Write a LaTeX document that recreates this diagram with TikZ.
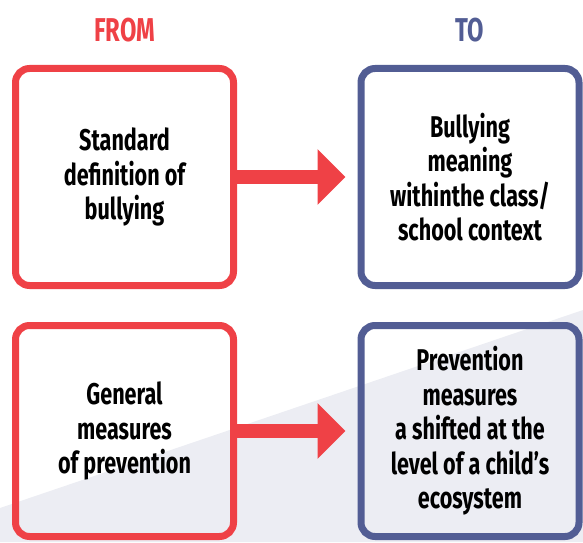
\documentclass[tikz,border=0pt]{standalone}
\definecolor{fromred}{RGB}{239, 65, 70}
\definecolor{toblue}{RGB}{82, 93, 148}
\definecolor{bggray}{RGB}{236, 237, 243}
\usepackage{fontspec}
\setmainfont{Fira Sans}[FakeStretch=0.72]
\usepackage{tikz}
\usetikzlibrary{arrows.meta, positioning, calc}

\tikzset{
  boxtext/.style={font=\fontsize{30}{34.5}\selectfont\bfseries, align=center, text=black},
  frombox/.style={boxtext, draw=fromred, line width=7pt, rounded corners=14pt, minimum width=218pt},
  tobox/.style={boxtext, draw=toblue, line width=7pt, rounded corners=14pt, minimum width=218pt},
  headtext/.style={font=\fontsize{33}{34}\selectfont\bfseries},
  shiftarrow/.style={draw=fromred, line width=14pt, -{Triangle[length=28pt, width=54pt]}, shorten >=12pt}
}

\begin{document}
\begin{tikzpicture}[x=1pt, y=1pt]
  \useasboundingbox (0, 0) rectangle (583, 542);

  % Background wedge
  \fill[bggray] (0, 0) -- (0, 34) -- (583, 232) -- (583, 0) -- cycle;

  % Column headings
  \node[headtext, text=fromred] (from) at (124.5, 512) {FROM};
  \node[headtext, text=toblue] (to) at (470, 512) {TO};

  % Top row
  \node[frombox, minimum height=217pt] (std) at (124.5, 365) {Standard\\definition of\\bullying};
  \node[tobox, minimum height=217pt] (ctx) at (470, 365) {Bullying\\meaning\\withinthe class/\\school context};

  % Bottom row
  \node[frombox, minimum height=211pt] (gen) at (124.5, 111) {General\\measures\\of prevention};
  \node[tobox, minimum height=211pt] (eco) at (470, 111) {Prevention\\measures\\a shifted at the\\level of a child’s\\ecosystem};

  % Arrows
  \draw[shiftarrow] (std.east) -- (ctx.west);
  \draw[shiftarrow] (gen.east) -- (eco.west);
\end{tikzpicture}
\end{document}
